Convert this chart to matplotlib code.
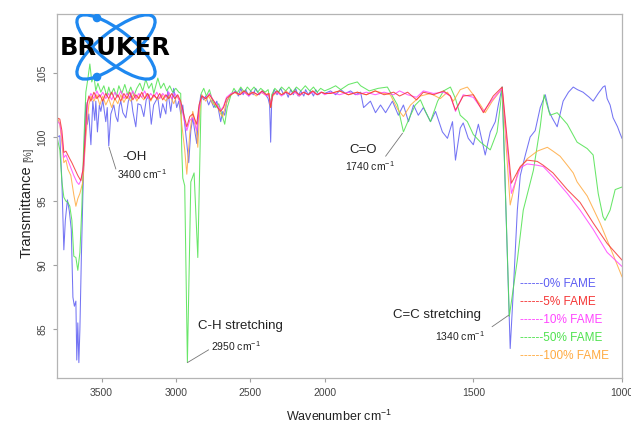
import matplotlib
matplotlib.use("Agg")
import matplotlib.pyplot as plt
import numpy as np
from matplotlib.patches import Ellipse, Circle

# ---- spectra (wavenumber in cm-1, transmittance in %) ----
wn_0 = [3800, 3781, 3767, 3754, 3744, 3730, 3717, 3704, 3693, 3683,
        3673, 3667, 3660, 3653, 3646, 3636, 3626, 3613, 3606, 3596,
        3586, 3572, 3559, 3546, 3539, 3528, 3515, 3505, 3492, 3472,
        3462, 3452, 3438, 3418, 3404, 3391, 3381, 3371, 3357, 3337,
        3320, 3304, 3290, 3270, 3256, 3236, 3216, 3200, 3183, 3166,
        3150, 3122, 3105, 3089, 3068, 3055, 3035, 3015, 2995, 2981,
        2968, 2954, 2941, 2927, 2914, 2900, 2887, 2874, 2860, 2847,
        2833, 2813, 2800, 2780, 2766, 2745, 2725, 2699, 2685, 2672,
        2658, 2632, 2598, 2580, 2564, 2548, 2531, 2510, 2497, 2480,
        2464, 2440, 2420, 2396, 2380, 2370, 2363, 2356, 2340, 2320,
        2296, 2275, 2262, 2245, 2228, 2210, 2195, 2178, 2161, 2140,
        2128, 2110, 2094, 2075, 2060, 2040, 2027, 2000, 1980, 1963,
        1946, 1930, 1913, 1896, 1879, 1869, 1846, 1829, 1812, 1795,
        1772, 1752, 1735, 1718, 1701, 1685, 1668, 1644, 1627, 1604,
        1587, 1570, 1560, 1544, 1534, 1517, 1500, 1483, 1460, 1443,
        1426, 1416, 1403, 1376, 1366, 1352, 1342, 1325, 1309, 1292,
        1275, 1258, 1245, 1235, 1218, 1198, 1180, 1164, 1150, 1131,
        1110, 1097, 1080, 1064, 1057, 1050, 1040, 1030, 1015, 1007,
        1000]
t_0 = [100.0, 100.1, 96.5, 91.2, 93.5, 95.1, 94.2, 92.8, 87.5, 86.8,
       87.2, 82.6, 85.5, 82.4, 85.0, 90.7, 95.5, 100.5, 102.7, 101.0,
       101.8, 99.4, 102.8, 101.3, 102.8, 100.4, 102.5, 102.0, 102.9, 101.2,
       102.3, 99.3, 101.8, 102.5, 101.6, 101.2, 102.4, 102.8, 101.9, 101.5,
       102.8, 103.3, 102.0, 100.8, 102.6, 102.5, 101.6, 102.9, 103.3, 101.0,
       102.5, 103.1, 101.5, 102.6, 101.8, 103.6, 102.0, 103.8, 102.3, 102.8,
       101.8, 102.5, 101.0, 99.5, 98.0, 100.5, 101.5, 100.5, 99.5, 102.0,
       103.3, 102.9, 103.2, 102.5, 102.9, 102.3, 102.8, 101.2, 102.0, 101.7,
       102.8, 103.3, 103.6, 103.2, 103.8, 103.3, 103.7, 103.2, 103.6, 103.3,
       103.8, 103.3, 103.6, 103.3, 103.0, 102.5, 99.6, 102.8, 103.7, 103.3,
       103.8, 103.3, 103.6, 103.1, 103.7, 103.3, 103.8, 103.2, 103.6, 103.2,
       103.7, 103.3, 103.6, 103.2, 103.7, 103.3, 103.5, 103.4, 103.6, 103.3,
       103.7, 103.4, 103.6, 103.3, 103.5, 102.3, 102.8, 101.9, 102.5, 101.9,
       102.8, 101.7, 102.5, 101.2, 102.5, 101.7, 102.3, 101.2, 102.0, 100.4,
       99.9, 101.2, 98.2, 100.7, 101.1, 99.9, 99.4, 101.0, 98.6, 100.4,
       101.2, 102.5, 103.9, 83.5, 87.8, 94.3, 97.0, 98.6, 100.0, 100.5,
       102.3, 103.3, 102.0, 101.5, 100.8, 102.8, 103.5, 103.9, 103.7, 103.5,
       103.1, 102.8, 103.4, 103.9, 104.0, 103.0, 102.5, 101.5, 100.8, 100.3,
       99.9]

wn_50 = [3800, 3781, 3767, 3754, 3740, 3727, 3714, 3700, 3687, 3673,
         3660, 3646, 3633, 3620, 3606, 3593, 3579, 3566, 3552, 3539,
         3525, 3505, 3485, 3465, 3452, 3438, 3418, 3400, 3384, 3364,
         3344, 3324, 3304, 3283, 3263, 3243, 3223, 3203, 3183, 3163,
         3149, 3122, 3102, 3082, 3062, 3042, 3022, 3001, 2981, 2968,
         2961, 2954, 2941, 2923, 2900, 2878, 2853, 2830, 2813, 2795,
         2775, 2753, 2732, 2712, 2685, 2672, 2655, 2632, 2610, 2590,
         2564, 2540, 2520, 2497, 2475, 2450, 2430, 2400, 2380, 2370,
         2363, 2356, 2335, 2310, 2290, 2262, 2240, 2215, 2190, 2160,
         2130, 2100, 2075, 2050, 2027, 2000, 1980, 1963, 1946, 1920,
         1890, 1879, 1850, 1820, 1789, 1755, 1735, 1711, 1695, 1678,
         1661, 1644, 1620, 1600, 1577, 1560, 1544, 1520, 1500, 1476,
         1443, 1420, 1409, 1403, 1379, 1352, 1332, 1298, 1275, 1262,
         1242, 1218, 1184, 1151, 1117, 1097, 1080, 1064, 1057, 1040,
         1023, 1000]
t_50 = [100.0, 99.0, 96.5, 95.3, 95.0, 94.9, 94.6, 93.5, 90.7, 90.6,
        89.6, 91.0, 94.5, 99.5, 103.5, 104.5, 105.7, 104.3, 104.8, 103.6,
        104.2, 103.5, 104.0, 103.2, 103.9, 103.3, 103.8, 103.2, 104.0, 103.4,
        104.1, 103.3, 103.9, 103.2, 103.8, 104.2, 103.6, 104.5, 103.8, 104.2,
        103.4, 104.6, 103.8, 104.2, 103.6, 104.0, 103.5, 103.8, 103.5, 103.4,
        99.0, 96.8, 96.2, 82.4, 96.5, 97.2, 90.6, 103.4, 103.8, 103.2,
        103.7, 102.8, 102.3, 102.6, 101.5, 101.0, 102.3, 103.2, 103.8, 103.4,
        103.9, 103.5, 103.9, 103.6, 103.9, 103.5, 103.8, 103.5, 103.7, 103.0,
        102.4, 103.3, 103.8, 103.5, 103.9, 103.6, 103.9, 103.5, 103.9, 103.6,
        104.0, 103.6, 103.9, 103.5, 103.8, 103.6, 103.8, 104.0, 103.7, 104.1,
        104.3, 104.0, 103.6, 103.8, 103.9, 102.5, 100.4, 101.7, 102.5, 102.9,
        102.0, 101.2, 102.8, 103.6, 103.9, 103.0, 101.7, 101.2, 100.2, 99.6,
        99.0, 100.4, 102.5, 103.9, 86.0, 90.4, 94.3, 97.4, 100.8, 103.3,
        101.7, 101.9, 101.0, 99.6, 99.1, 98.6, 95.6, 93.8, 93.5, 94.3,
        95.9, 96.1]

wn_100 = [3800, 3781, 3767, 3754, 3740, 3727, 3707, 3687, 3673, 3660,
          3646, 3626, 3606, 3586, 3572, 3552, 3532, 3512, 3492, 3472,
          3452, 3432, 3411, 3391, 3371, 3350, 3330, 3304, 3283, 3263,
          3243, 3216, 3196, 3169, 3149, 3122, 3095, 3068, 3042, 3015,
          2995, 2975, 2961, 2941, 2927, 2907, 2887, 2867, 2853, 2840,
          2826, 2800, 2780, 2753, 2725, 2699, 2685, 2665, 2640, 2610,
          2580, 2550, 2520, 2490, 2460, 2430, 2400, 2375, 2363, 2350,
          2320, 2290, 2260, 2230, 2200, 2170, 2140, 2110, 2080, 2050,
          2020, 2000, 1980, 1950, 1920, 1890, 1860, 1830, 1800, 1779,
          1755, 1735, 1711, 1678, 1644, 1611, 1587, 1567, 1544, 1520,
          1500, 1476, 1460, 1436, 1409, 1403, 1376, 1349, 1319, 1285,
          1251, 1232, 1208, 1184, 1164, 1151, 1117, 1074, 1040, 1000]
t_100 = [101.6, 101.0, 99.5, 98.0, 98.2, 97.5, 97.0, 95.5, 94.6, 95.2,
         95.6, 96.5, 100.0, 102.5, 103.2, 102.8, 103.3, 102.5, 103.2, 102.5,
         103.0, 102.3, 103.0, 102.6, 103.3, 102.7, 103.2, 102.8, 103.4, 102.8,
         103.3, 102.9, 103.4, 102.8, 103.3, 102.9, 103.3, 102.8, 103.3, 102.6,
         103.2, 102.9, 101.0, 99.0, 97.1, 100.3, 102.0, 101.0, 99.2, 102.0,
         103.3, 102.8, 103.2, 102.6, 102.5, 101.8, 101.6, 102.5, 103.2, 103.5,
         103.3, 103.6, 103.3, 103.5, 103.2, 103.5, 103.3, 103.4, 102.3, 103.2,
         103.5, 103.3, 103.6, 103.3, 103.5, 103.2, 103.5, 103.3, 103.6, 103.3,
         103.5, 103.4, 103.4, 103.6, 103.3, 103.5, 103.3, 103.6, 103.4, 103.3,
         102.2, 101.6, 102.5, 103.2, 103.4, 103.0, 103.5, 102.8, 103.7, 103.9,
         103.3, 102.5, 101.9, 102.8, 103.6, 103.8, 94.7, 97.4, 98.3, 98.9,
         99.2, 98.9, 98.5, 97.8, 97.2, 96.5, 95.4, 93.3, 91.4, 89.1]

wn_5 = [3800, 3781, 3767, 3754, 3740, 3727, 3714, 3700, 3680, 3660,
        3640, 3626, 3613, 3599, 3586, 3572, 3552, 3532, 3512, 3492,
        3472, 3452, 3432, 3411, 3391, 3371, 3350, 3330, 3310, 3290,
        3270, 3250, 3230, 3210, 3190, 3170, 3149, 3129, 3109, 3089,
        3068, 3048, 3028, 3008, 2988, 2968, 2948, 2927, 2907, 2887,
        2860, 2845, 2826, 2800, 2775, 2745, 2720, 2699, 2680, 2660,
        2630, 2600, 2570, 2540, 2510, 2480, 2450, 2420, 2390, 2375,
        2363, 2350, 2320, 2290, 2260, 2230, 2200, 2170, 2140, 2110,
        2080, 2050, 2020, 2000, 1980, 1950, 1920, 1890, 1860, 1830,
        1800, 1768, 1748, 1721, 1691, 1668, 1634, 1600, 1577, 1560,
        1534, 1500, 1466, 1433, 1403, 1372, 1342, 1319, 1285, 1265,
        1232, 1184, 1141, 1097, 1050, 1000]
t_5 = [101.5, 101.4, 100.5, 98.8, 98.9, 98.6, 98.3, 98.0, 97.5, 97.0,
       96.6, 97.4, 99.5, 102.5, 103.2, 102.8, 103.5, 103.0, 103.3, 102.8,
       103.4, 103.0, 103.5, 102.9, 103.3, 102.8, 103.4, 103.0, 103.5, 102.9,
       103.3, 103.0, 103.5, 103.0, 103.4, 102.9, 103.3, 103.0, 103.4, 102.9,
       103.3, 103.0, 103.4, 103.0, 103.3, 102.8, 101.8, 100.8, 101.6, 101.8,
       101.0, 102.5, 103.2, 103.0, 103.3, 102.8, 102.3, 102.0, 102.3, 103.0,
       103.3, 103.5, 103.3, 103.6, 103.3, 103.5, 103.3, 103.6, 103.3, 103.4,
       102.3, 103.3, 103.6, 103.3, 103.5, 103.3, 103.6, 103.3, 103.5, 103.3,
       103.6, 103.3, 103.5, 103.4, 103.4, 103.6, 103.3, 103.5, 103.3, 103.6,
       103.3, 103.5, 103.2, 103.5, 102.9, 103.5, 103.3, 103.6, 103.2, 102.1,
       103.2, 103.3, 101.9, 103.2, 103.9, 96.4, 97.7, 98.2, 98.1, 97.8,
       97.2, 95.9, 94.9, 93.3, 91.7, 90.4]

wn_10 = [3800, 3781, 3767, 3754, 3740, 3727, 3707, 3687, 3667, 3653,
         3640, 3620, 3606, 3593, 3572, 3552, 3532, 3512, 3492, 3472,
         3452, 3432, 3411, 3391, 3371, 3350, 3330, 3310, 3290, 3270,
         3250, 3230, 3210, 3190, 3170, 3149, 3129, 3109, 3089, 3068,
         3048, 3028, 3008, 2988, 2968, 2948, 2927, 2907, 2887, 2860,
         2845, 2826, 2800, 2775, 2745, 2720, 2699, 2680, 2660, 2630,
         2600, 2570, 2540, 2510, 2480, 2450, 2420, 2390, 2375, 2363,
         2350, 2320, 2290, 2260, 2230, 2200, 2170, 2140, 2110, 2080,
         2050, 2020, 2000, 1980, 1950, 1920, 1890, 1860, 1830, 1800,
         1768, 1748, 1721, 1691, 1668, 1634, 1600, 1577, 1560, 1534,
         1500, 1466, 1433, 1403, 1372, 1342, 1319, 1285, 1265, 1232,
         1184, 1141, 1097, 1050, 1000]
t_10 = [101.3, 101.0, 100.0, 98.4, 98.6, 98.2, 97.6, 97.0, 96.5, 96.3,
        96.6, 97.8, 100.5, 102.8, 103.4, 103.0, 103.6, 103.1, 103.5, 103.0,
        103.4, 102.9, 103.5, 103.1, 103.6, 103.0, 103.4, 103.1, 103.6, 103.0,
        103.4, 103.1, 103.6, 103.0, 103.4, 103.1, 103.5, 103.0, 103.4, 103.1,
        103.5, 103.0, 103.4, 103.1, 102.6, 101.5, 100.5, 101.3, 101.5, 100.5,
        102.2, 103.2, 103.0, 103.4, 102.8, 102.5, 102.1, 102.4, 103.1, 103.4,
        103.5, 103.3, 103.5, 103.2, 103.5, 103.3, 103.5, 103.2, 103.3, 102.5,
        103.3, 103.5, 103.2, 103.5, 103.3, 103.5, 103.2, 103.5, 103.3, 103.5,
        103.3, 103.5, 103.3, 103.5, 103.3, 103.5, 103.3, 103.5, 103.3, 103.5,
        103.3, 103.6, 103.3, 103.1, 103.6, 103.4, 103.5, 103.2, 102.0, 103.3,
        103.1, 102.0, 103.0, 103.8, 95.6, 97.6, 97.9, 97.8, 97.7, 96.9,
        95.6, 94.3, 92.8, 91.0, 89.9]

labels = ["------0% FAME", "------5% FAME", "------10% FAME", "------50% FAME", "------100% FAME"]
x_ticks = [3500, 3000, 2500, 2000, 1500, 1000]
y_ticks = [85, 90, 95, 100, 105]


# OPUS style axis: the range above 2000 cm-1 is drawn at half scale
def squeeze(w):
    w = np.asarray(w, dtype=float)
    return np.where(w > 2000, 2000 + (w - 2000) / 2.0, w)


def unsqueeze(u):
    u = np.asarray(u, dtype=float)
    return np.where(u > 2000, 2000 + (u - 2000) * 2.0, u)


def draw_logo(fig):
    logo = fig.add_axes([57 / 631, 1 - 82 / 425, 115 / 631, 68 / 425])
    logo.set_xlim(0, 115)
    logo.set_ylim(68, 0)
    logo.axis('off')
    blue = '#1e88f0'
    for ang in (38, -38):
        logo.add_patch(Ellipse((59, 33), 96, 32, angle=ang, fill=False,
                               edgecolor=blue, lw=2.3))
    logo.add_patch(Circle((40, 4), 3.6, color=blue))
    logo.add_patch(Circle((40, 63), 3.6, color=blue))
    logo.text(58, 34, "BRUKER", ha='center', va='center', fontsize=17.5,
              fontweight='heavy', family='DejaVu Sans', color='black')


def main():
    plt.rcParams['font.family'] = ['Liberation Sans', 'DejaVu Sans']
    plt.rcParams['mathtext.default'] = 'regular'

    fig = plt.figure(figsize=(6.31, 4.25), dpi=100)
    ax = fig.add_axes([57 / 631, 47 / 425, 565 / 631, 364 / 425])

    series = [
        (wn_0, t_0, '#5c5cf2'),
        (wn_5, t_5, '#f53535'),
        (wn_10, t_10, '#ff45ff'),
        (wn_50, t_50, '#4ee24e'),
        (wn_100, t_100, '#ffaa40'),
    ]
    draw_order = [0, 3, 4, 2, 1]
    lines = [None] * len(series)
    for i in draw_order:
        wn, tr, c = series[i]
        lines[i], = ax.plot(wn, tr, color=c, lw=0.75, alpha=0.85)

    ax.set_xscale('function', functions=(squeeze, unsqueeze))
    ax.set_xlim(3800, 1000)
    ax.set_ylim(81.2, 109.6)
    ax.set_xticks(x_ticks)
    ax.set_xticklabels([str(v) for v in x_ticks])
    ax.set_yticks(y_ticks)
    ax.set_yticklabels([str(v) for v in y_ticks], rotation=90, va='center')
    ax.minorticks_off()

    for sp in ax.spines.values():
        sp.set_color('#b4b4b4')
        sp.set_linewidth(0.9)
    ax.tick_params(length=3, width=0.8, color='#a0a0a0', labelcolor='#444444',
                   labelsize=7.5, pad=4)

    ax.set_xlabel("Wavenumber cm$^{-1}$", fontsize=9, color='#222222', labelpad=8)
    fig.text(27 / 631, 1 - 258 / 425, "Transmittance", rotation=90, ha='center',
             va='bottom', fontsize=10.5, color='#222222')
    fig.text(28 / 631, 1 - 162 / 425, "[%]", rotation=90, ha='center',
             va='bottom', fontsize=7, color='#444444')

    # band annotations
    notes = [
        ("-OH", (3280, 98.46), "3400 cm$^{-1}$", (3230, 97.09), (3450, 99.2), (3404, 97.5)),
        ("C-H stretching", (2564, 85.26), "2950 cm$^{-1}$", (2598, 83.7), (2923, 82.4), (2780, 83.4)),
        ("C=O", (1869, 99.0), "1740 cm$^{-1}$", (1846, 97.76), (1738, 100.3), (1795, 98.5)),
        ("C=C stretching", (1622, 86.12), "1340 cm$^{-1}$", (1545, 84.44), (1381, 86.1), (1437, 85.2)),
    ]
    for name, npos, wave, wpos, tip, tail in notes:
        ax.text(*npos, name, ha='center', va='center', fontsize=9.5, color='#222222')
        ax.text(*wpos, wave, ha='center', va='center', fontsize=7.5, color='#222222')
        ax.annotate('', xy=tip, xytext=tail,
                    arrowprops=dict(arrowstyle='-', color='#777777', lw=0.6,
                                    shrinkA=0, shrinkB=0))

    leg = ax.legend(lines, labels, loc='upper left', bbox_to_anchor=((520 - 57) / 565, (378 - 278) / 364),
                    frameon=False, handlelength=0, handletextpad=0, borderpad=0,
                    borderaxespad=0, labelspacing=0.5, fontsize=8.5)
    for h in leg.legend_handles:
        h.set_visible(False)
    for txt, (_, _, c) in zip(leg.get_texts(), series):
        txt.set_color(c)

    draw_logo(fig)

    fig.savefig("out.png", dpi=100)


if __name__ == "__main__":
    main()
